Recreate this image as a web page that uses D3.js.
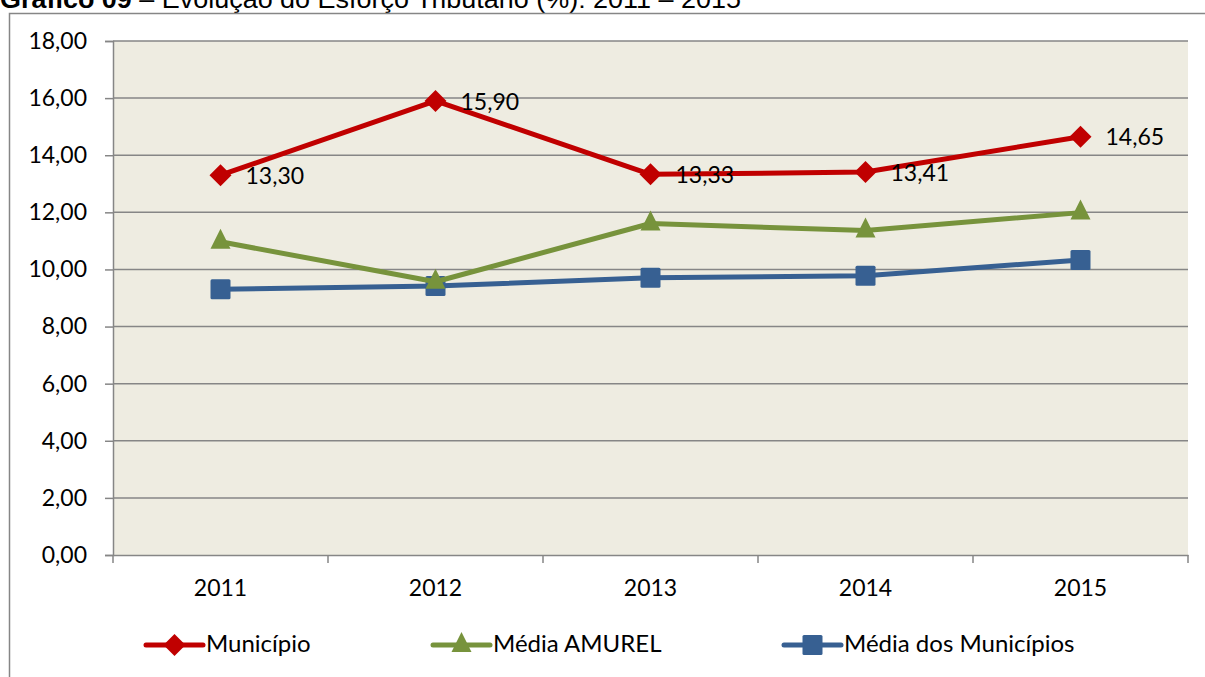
<!DOCTYPE html>
<html><head><meta charset="utf-8">
<script src="https://cdn.jsdelivr.net/npm/d3@7"></script>
<style>
html,body{margin:0;padding:0;background:#fff;}
svg{display:block;}
</style></head>
<body>
<script>
const categories = ["2011","2012","2013","2014","2015"];
const municipio = [13.30, 15.90, 13.33, 13.41, 14.65];
const mediaAmurel = [10.97, 9.57, 11.61, 11.36, 11.99];
const mediaMunicipios = [9.31, 9.42, 9.71, 9.78, 10.33];
const yTicks = [0,2,4,6,8,10,12,14,16,18];
const seriesNames = ["Município","Média AMUREL","Média dos Municípios"];

const W = 1205, H = 677;
const svg = d3.select("body").append("svg").attr("width", W).attr("height", H);
const fontFam = "Lato, 'Open Sans', sans-serif";
const fmt = v => v.toFixed(2).replace(".", ",");

// title (cut off at top as in the source)
const title = svg.append("text").attr("x", 0).attr("y", 8)
  .attr("font-family", "'Liberation Sans Narrow', 'Liberation Sans', Arial, sans-serif")
  .attr("font-size", 25).attr("fill", "#000")
  .attr("textLength", 741).attr("lengthAdjust", "spacingAndGlyphs");
title.append("tspan").attr("font-weight", "bold").text("Gráfico 09");
title.append("tspan").text(" – Evolução do Esforço Tributário (%): 2011 – 2015");

// outer frame
svg.append("path").attr("d", `M9.5,${H+5}V13.5H${W+5}`)
  .attr("fill", "none").attr("stroke", "#868686").attr("stroke-width", 1.5);

const L = 113, R = 1188, T = 41, B = 555;
const x = d3.scaleBand().domain(categories).range([L, R]);
const y = d3.scaleLinear().domain([0, 18]).range([B, T]);
const cx = c => x(c) + x.bandwidth() / 2;

svg.append("rect").attr("x", L).attr("y", T).attr("width", R - L).attr("height", B - T).attr("fill", "#EEECE1");

// gridlines
svg.append("g").selectAll("line").data(yTicks.filter(d => d > 0)).join("line")
  .attr("x1", L).attr("x2", R).attr("y1", d => y(d)).attr("y2", d => y(d))
  .attr("stroke", "#868686").attr("stroke-width", 1.5);

// y axis
const yAxis = svg.append("g").attr("transform", `translate(${L},0)`)
  .call(d3.axisLeft(y).tickValues(yTicks).tickFormat(fmt).tickSize(8).tickPadding(18));
yAxis.select(".domain").attr("stroke", "#868686").attr("stroke-width", 1.5);
yAxis.selectAll(".tick line").attr("stroke", "#868686").attr("stroke-width", 1.5);
yAxis.selectAll("text").attr("font-family", fontFam).attr("font-size", 23).attr("fill", "#000");

// x axis
const xAxis = svg.append("g").attr("transform", `translate(0,${B})`)
  .call(d3.axisBottom(x).tickSize(0).tickPadding(25));
xAxis.select(".domain").attr("stroke", "#868686").attr("stroke-width", 1.5);
xAxis.selectAll("text").attr("font-family", fontFam).attr("font-size", 23).attr("fill", "#000");
// ticks at band boundaries
const bounds = categories.map(c => x(c)).concat([R]);
svg.append("g").selectAll("line").data(bounds).join("line")
  .attr("x1", d => d).attr("x2", d => d).attr("y1", B).attr("y2", B + 8)
  .attr("stroke", "#868686").attr("stroke-width", 1.5);

const series = [
  {name: seriesNames[0], values: municipio, color: "#C00000", sym: "diamond"},
  {name: seriesNames[1], values: mediaAmurel, color: "#77933C", sym: "triangle"},
  {name: seriesNames[2], values: mediaMunicipios, color: "#376092", sym: "square"}
];

function marker(g, sym, color, px, py) {
  if (sym === "diamond") {
    g.append("path").attr("d", `M${px},${py-11}L${px+11},${py}L${px},${py+11}L${px-11},${py}Z`).attr("fill", color);
  } else if (sym === "triangle") {
    g.append("path").attr("d", `M${px},${py-13}L${px+10},${py+7}L${px-10},${py+7}Z`).attr("fill", color);
  } else {
    g.append("rect").attr("x", px-10).attr("y", py-10).attr("width", 20).attr("height", 20).attr("rx", 1.5).attr("fill", color);
  }
}

const line = d3.line().x((d, i) => cx(categories[i])).y(d => y(d));
[...series].reverse().forEach(s => {
  const g = svg.append("g");
  g.append("path").datum(s.values).attr("d", line).attr("fill", "none")
    .attr("stroke", s.color).attr("stroke-width", 5).attr("stroke-linejoin", "round");
  s.values.forEach((v, i) => marker(g, s.sym, s.color, cx(categories[i]), y(v)));
});

// data labels for Município
svg.append("g").selectAll("text").data(municipio).join("text")
  .attr("x", (d, i) => cx(categories[i]) + 25).attr("y", d => y(d) + 3)
  .attr("dominant-baseline", "middle")
  .attr("font-family", fontFam).attr("font-size", 23).attr("fill", "#000")
  .text(fmt);

// legend
const legendItems = [
  {s: series[0], x0: 146},
  {s: series[1], x0: 433},
  {s: series[2], x0: 784}
];
const ly = 645;
legendItems.forEach(it => {
  const g = svg.append("g");
  g.append("line").attr("x1", it.x0).attr("x2", it.x0 + 57).attr("y1", ly).attr("y2", ly)
    .attr("stroke", it.s.color).attr("stroke-width", 5).attr("stroke-linecap", "round");
  marker(g, it.s.sym, it.s.color, it.x0 + 28.5, ly);
  g.append("text").attr("x", it.x0 + 60).attr("y", ly + 1).attr("dominant-baseline", "middle")
    .attr("font-family", fontFam).attr("font-size", 24).attr("fill", "#000").text(it.s.name);
});
</script>
</body></html>
